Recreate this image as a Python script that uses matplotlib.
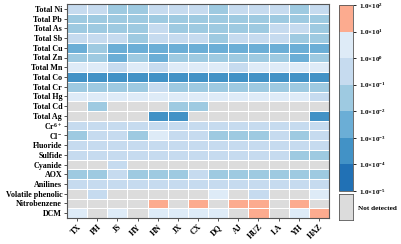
import numpy as np
import matplotlib
matplotlib.use("Agg")
import matplotlib.pyplot as plt
from matplotlib.colors import ListedColormap, BoundaryNorm

plt.rcParams['font.family'] = ['Liberation Serif', 'DejaVu Serif']
plt.rcParams['font.weight'] = 'bold'
plt.rcParams['mathtext.fontset'] = 'custom'
plt.rcParams['mathtext.rm'] = 'Liberation Serif:bold'
plt.rcParams['mathtext.it'] = 'Liberation Serif:bold'
plt.rcParams['mathtext.bf'] = 'Liberation Serif:bold'

sites = ["TX", "PH", "JS", "HY", "HN", "JX", "CX", "DQ", "AJ", "HUZ", "LA", "YH", "HAZ"]
pollutants = ["Total Ni", "Total Pb", "Total As", "Total Sb", "Total Cu", "Total Zn",
              "Total Mn", "Total Co", "Total Cr", "Total Hg", "Total Cd", "Total Ag",
              "Cr$^{6+}$", "Cl$^{-}$", "Fluoride", "Sulfide", "Cyanide", "AOX",
              "Anilines", "Volatile phenolic", "Nitrobenzene", "DCM"]

N = np.nan
total_ni = [0.3, 0.3, 0.03, 0.03, 0.3, 0.3, 0.3, 0.03, 0.3, 0.3, 0.3, 0.03, 0.3]
total_pb = [0.03, 0.03, 0.03, 0.03, 0.03, 0.03, 0.03, 0.03, 0.03, 0.03, 0.03, 0.03, 0.03]
total_as = [0.03, 0.03, 0.03, 0.03, 0.3, 0.03, 0.03, 0.03, 0.03, 0.03, 0.3, 0.3, 0.03]
total_sb = [0.3, 0.3, 0.3, 0.03, 0.3, 0.3, 0.3, 0.03, 0.3, 0.3, 0.3, 0.03, 0.03]
total_cu = [0.003, 0.03, 0.003, 0.003, 0.003, 0.003, 0.003, 0.003, 0.003, 0.003, 0.003, 0.003, 0.003]
total_zn = [0.03, 0.03, 0.003, 0.03, 0.003, 0.03, 0.03, 0.03, 0.03, 0.03, 0.03, 0.003, 0.03]
total_mn = [3, 3, 0.3, 3, 0.3, 3, 3, 3, 0.3, 3, 3, 3, 3]
total_co = [3e-4, 3e-4, 3e-4, 3e-4, 3e-4, 3e-4, 3e-4, 3e-4, 3e-4, 3e-4, 3e-4, 3e-4, 3e-4]
total_cr = [0.03, 0.03, 0.03, 0.03, 0.3, 0.03, 0.03, 0.03, 0.03, 0.03, 0.03, 0.03, 0.03]
total_hg = [3, 3, 3, 3, 3, 3, 3, 3, 3, 3, 3, 3, 0.3]
total_cd = [N, 0.03, N, N, N, 0.03, 0.03, N, N, N, N, N, N]
total_ag = [N, N, N, N, 3e-4, 3e-4, N, N, N, N, N, N, 3e-4]
cr6 = [0.3, 0.3, 0.3, 0.3, 0.3, 0.3, 0.3, 0.3, 0.3, 0.3, 0.3, 0.3, 0.3]
chloride = [0.03, 0.3, 0.3, 0.03, 3, 0.3, 0.3, 0.03, 0.03, 0.03, 0.3, 0.03, 0.3]
fluoride = [0.3, 0.3, 0.3, 0.3, 0.3, 0.3, 0.3, 0.3, 0.3, 0.3, 0.3, 0.3, 0.3]
sulfide = [0.3, 0.3, 0.3, 0.3, 0.3, 0.3, 0.3, 0.3, 0.3, 0.3, 0.3, 0.03, 0.03]
cyanide = [N, N, 0.3, N, N, N, N, N, N, N, N, N, N]
aox = [0.03, 0.03, 0.3, 0.03, 0.03, 0.03, 0.3, 0.03, 0.03, 0.03, 0.03, 0.03, 0.03]
anilines = [0.3, 0.3, 0.3, 0.3, 0.3, 0.3, 0.3, 0.3, 0.3, 0.3, 0.3, 0.3, 0.3]
volatile = [N, 0.3, N, N, N, N, N, 3, N, 0.3, N, N, 3]
nitrobenzene = [N, N, N, N, 30, N, 30, N, 30, 30, N, 30, N]
dcm = [3, N, 3, N, 3, 3, 3, 3, N, 30, N, 3, 30]

rows = [total_ni, total_pb, total_as, total_sb, total_cu, total_zn, total_mn, total_co,
        total_cr, total_hg, total_cd, total_ag, cr6, chloride, fluoride, sulfide, cyanide,
        aox, anilines, volatile, nitrobenzene, dcm]
data = np.ma.masked_invalid(np.array(rows, dtype=float))

colors = ["#2171b5", "#4292c6", "#6baed6", "#9ecae1", "#c6dbef", "#deebf7", "#fcab8f"]
bounds = 10.0 ** np.arange(-5, 3)
cmap = ListedColormap(colors)
cmap.set_bad("#dcdcdc")
norm = BoundaryNorm(bounds, cmap.N)

W, H = 401, 244
fig = plt.figure(figsize=(W / 100, H / 100), dpi=100)
ax = fig.add_axes([67 / W, 1 - 218 / H, 262 / W, 214 / H])
mesh = ax.pcolormesh(data, cmap=cmap, norm=norm, edgecolors="white", linewidth=0.7)
ax.set_xlim(0, len(sites))
ax.set_ylim(len(pollutants), 0)
ax.set_xticks(np.arange(len(sites)) + 0.5)
ax.set_xticklabels(sites, rotation=45, ha="right", rotation_mode="anchor", fontsize=5.8, fontweight="bold")
ax.set_yticks(np.arange(len(pollutants)) + 0.5)
ax.set_yticklabels(pollutants, fontsize=5.8, fontweight="bold")
ax.tick_params(axis="both", length=2, width=0.6, pad=1.5, color="#333333")
for s in ax.spines.values():
    s.set_color("#555555")
    s.set_linewidth(0.8)

cax = fig.add_axes([339 / W, 1 - 191 / H, 14 / W, 186 / H])
cb = fig.colorbar(mesh, cax=cax, ticks=bounds)
exps = [-5, -4, -3, -2, -1, 0, 1, 2]
cb.set_ticklabels([r"$1.0{\times}10^{%d}$" % e for e in exps])
cb.ax.tick_params(labelsize=5, length=2, width=0.6, pad=2)
cb.outline.set_edgecolor("#555555")
cb.outline.set_linewidth(0.6)

nax = fig.add_axes([339 / W, 1 - 220 / H, 14 / W, 26 / H])
nax.set_facecolor("#dcdcdc")
nax.set_xticks([])
nax.set_yticks([])
for s in nax.spines.values():
    s.set_color("#555555")
    s.set_linewidth(0.6)
fig.text(358 / W, 1 - 209 / H, "Not detected", fontsize=5.2, fontweight="bold", va="center", ha="left")

fig.savefig("out.png", dpi=100)
